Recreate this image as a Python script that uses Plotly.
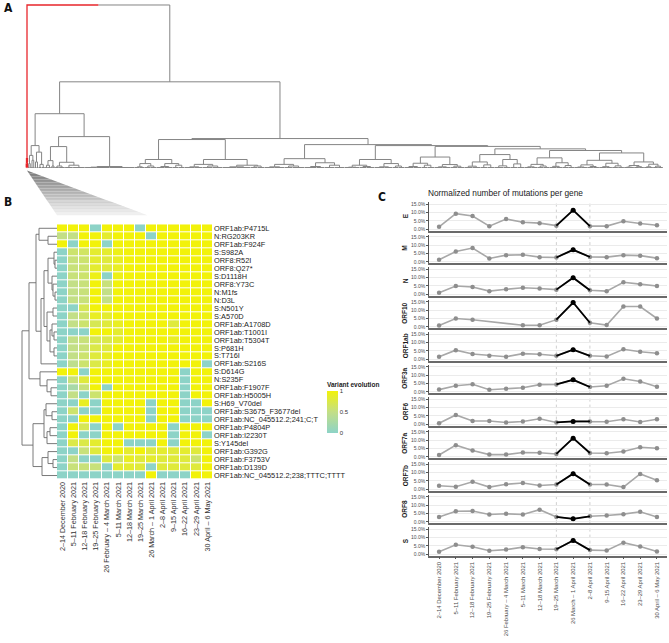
import plotly.graph_objects as go

W, H = 669, 643
FONT = "Liberation Sans, Arial, sans-serif"
LETTER_FONT = "Liberation Sans Narrow, DejaVu Sans Condensed, Arial Narrow, sans-serif"

# ---------------- data ----------------
weeks = ["2–14 December 2020", "5–11 February 2021", "12–18 February 2021",
         "19–25 February 2021", "26 February – 4 March 2021", "5–11 March 2021",
         "12–18 March 2021", "19–25 March 2021", "26 March – 1 April 2021",
         "2–8 April 2021", "9–15 April 2021", "16–22 April 2021",
         "23–29 April 2021", "30 April – 6 May 2021"]

mutations = ["ORF1ab:P4715L", "N:RG203KR", "ORF1ab:F924F", "S:S982A", "ORF8:R52I",
             "ORF8:Q27*", "S:D1118H", "ORF8:Y73C", "N:M1fs", "N:D3L", "S:N501Y",
             "S:A570D", "ORF1ab:A1708D", "ORF1ab:T1001I", "ORF1ab:T5304T", "S:P681H",
             "S:T716I", "ORF1ab:S216S", "S:D614G", "N:S235F", "ORF1ab:F1907F",
             "ORF1ab:H5005H", "S:H69_V70del", "ORF1ab:S3675_F3677del",
             "ORF1ab:NC_045512.2;241;C;T", "ORF1ab:P4804P", "ORF1ab:I2230T",
             "S:Y145del", "ORF1ab:G392G", "ORF1ab:F3753V", "ORF1ab:D139D",
             "ORF1ab:NC_045512.2;238;TTTC;TTTT"]

variant_evolution = [
    [1, 1, 1, 0, 1, 1, 1, 0, 1, 1, 1, 1, 1, 1],
    [0.5, 0.5, 1, 1, 0.85, 1, 1, 1, 0, 1, 1, 1, 1, 1],
    [1, 0, 1, 1, 0, 1, 1, 1, 1, 1, 1, 1, 1, 1],
    [0, 0.6, 0.65, 0.85, 0.85, 0.95, 1, 1, 1, 1, 1, 1, 1, 1],
    [0, 0.55, 0.6, 0.85, 0.8, 0.9, 1, 1, 1, 1, 1, 1, 1, 1],
    [0, 0.55, 0.6, 0.85, 0.8, 0.9, 1, 1, 1, 1, 1, 1, 1, 1],
    [0, 0.55, 0.6, 0.95, 0, 0.95, 1, 1, 1, 1, 1, 1, 1, 1],
    [0, 0.5, 0.55, 1, 0.55, 1, 1, 1, 1, 1, 1, 1, 1, 1],
    [0, 0.5, 0.55, 1, 0.5, 1, 1, 1, 1, 1, 1, 1, 1, 1],
    [0, 0.5, 0.55, 1, 0.5, 1, 1, 1, 1, 1, 1, 1, 1, 1],
    [0, 0, 0.7, 1, 1, 1, 1, 1, 1, 1, 1, 1, 1, 1],
    [0, 0.5, 0.6, 0.9, 0.85, 1, 1, 1, 1, 1, 1, 1, 1, 1],
    [0, 0.5, 0.6, 0.7, 0.8, 0.9, 1, 1, 1, 1, 0.8, 1, 1, 1],
    [0, 0, 0, 1, 1, 0.85, 1, 1, 1, 1, 1, 1, 1, 1],
    [0, 0.5, 0.55, 0.7, 0.75, 0.85, 1, 1, 1, 1, 0.9, 1, 1, 1],
    [0, 0.5, 0.55, 0.75, 0.8, 1, 1, 1, 1, 1, 1, 1, 1, 1],
    [0, 0.5, 0.6, 0.8, 0.9, 1, 1, 1, 1, 1, 1, 1, 1, 1],
    [0, 0.45, 0.6, 0.75, 0.9, 1, 1, 1, 1, 1, 1, 1, 1, 0],
    [1, 1, 0, 1, 1, 1, 1, 1, 1, 1, 1, 0, 1, 1],
    [0, 0.55, 0.8, 1, 1, 1, 1, 1, 1, 1, 1, 0, 1, 1],
    [0, 0.25, 0.55, 1, 0, 1, 1, 1, 1, 1, 1, 0, 1, 1],
    [0, 0.5, 0, 0.6, 1, 1, 1, 1, 1, 1, 1, 0, 1, 1],
    [0, 0, 0.9, 0, 1, 1, 1, 1, 0, 1, 1, 0, 0, 1],
    [0, 0.6, 0, 0, 1, 1, 1, 1, 0, 1, 1, 0, 0, 0],
    [0, 0, 1, 1, 1, 1, 1, 1, 0, 1, 1, 0, 0, 0],
    [0, 1, 0.7, 0, 1, 0, 1, 1, 1, 1, 0, 1, 1, 1],
    [0, 1, 0, 0, 1, 1, 1, 1, 1, 1, 0, 1, 1, 0],
    [0, 0.75, 0.75, 0.85, 1, 1, 0, 0, 0, 1, 0, 1, 1, 1],
    [0, 0, 0.55, 0.8, 1, 1, 0.85, 1, 0.8, 0.85, 0.8, 0.85, 0.8, 1],
    [0, 0.5, 0, 0, 0.8, 0.6, 0.9, 0.8, 0.85, 0.8, 0.8, 0.8, 0.6, 1],
    [0, 0.55, 0.55, 0.55, 0, 0.85, 0.85, 0.8, 0, 0.8, 0.8, 0.8, 0.8, 1],
    [0, 0, 0, 0, 0, 0, 0, 0, 1, 0, 0, 0, 1, 1],
]

genes = ["E", "M", "N", "ORF10", "ORF1ab", "ORF3a", "ORF6", "ORF7a", "ORF7b", "ORF8", "S"]
E_pct = [1.5, 9.4, 8.0, 1.9, 6.2, 4.2, 3.7, 2.2, 11.5, 1.9, 1.9, 4.8, 3.5, 2.4]
M_pct = [1.2, 6.2, 8.3, 2.0, 4.0, 4.2, 2.8, 2.6, 7.2, 2.9, 2.8, 4.0, 3.7, 2.2]
N_pct = [0.9, 5.0, 4.4, 1.9, 3.0, 3.9, 3.5, 2.8, 10.0, 2.4, 1.9, 7.2, 6.1, 5.0]
ORF10_pct = [0.8, 5.0, 4.2, None, None, 0.9, 0.9, 4.3, 14.6, 2.4, 1.0, 12.2, 12.2, 5.0]
ORF1ab_pct = [1.5, 5.5, 3.2, 2.2, 1.5, 3.4, 3.0, 2.1, 5.8, 2.1, 1.7, 6.0, 4.5, 3.6]
ORF3a_pct = [1.3, 3.6, 4.5, 1.2, 1.8, 2.4, 4.3, 4.4, 7.2, 2.9, 3.6, 7.8, 6.2, 3.0]
ORF6_pct = [0.6, 5.6, 2.0, 2.0, 1.1, 1.7, 3.3, 1.1, 1.7, 1.7, 1.5, 3.0, 1.4, 3.0]
ORF7a_pct = [1.1, 7.0, 3.8, 1.3, 1.3, 2.6, 2.4, 1.7, 11.2, 2.3, 2.1, 3.2, 5.7, 5.1]
ORF7b_pct = [2.1, 1.5, 4.5, 1.3, 3.0, 3.8, 2.3, 2.9, 9.4, 2.9, 2.9, 1.3, 9.2, 5.4]
ORF8_pct = [2.9, 6.3, 6.5, 4.4, 4.8, 4.4, 7.3, 2.9, 1.8, 3.3, 3.8, 4.6, 6.0, 2.9]
S_pct = [1.5, 5.7, 4.5, 2.1, 2.8, 4.3, 3.2, 3.0, 8.3, 2.5, 2.3, 7.0, 4.7, 1.7]
gene_pct = [E_pct, M_pct, N_pct, ORF10_pct, ORF1ab_pct, ORF3a_pct, ORF6_pct,
            ORF7a_pct, ORF7b_pct, ORF8_pct, S_pct]
pct_ticks = [0, 5, 10, 15]

highlight_weeks = ["19–25 March 2021", "2–8 April 2021"]
peak_week = "26 March – 1 April 2021"

# sample dendrogram: [height, left, right]; leaf = collapsed cluster width
red_cluster = [6, [3, 0.5, 0.5], [4, 0.5, 0.5]]
cl1 = [6.0, [2.5, [1, 10, 10], [1.5, 8, 12]], [3.5, [1.2, 12, 8], [2, 10, 10]]]
cl2 = [5.5, [2, [0.8, 8, 7], [1.2, 7, 8]], [3, [1, 10, 8], [1.5, 6, 6]]]
cl3 = [7.0, [3.2, [1.2, 9, 8], [2, 6, 7]], [2.4, [1, 8, 8], [1.4, 7, 7]]]
cl4 = [8.5, [4, [1.4, 8, 8], [2.2, 7, 7]], [5.5, [1.6, 9, 7], [2.8, 7, 7]]]
cl5 = [6.5, [2.5, [1, 7, 6], [1.5, 6, 6]], [3.5, [1.3, 7, 6], [1.8, 6, 6]]]
cl6 = [5.0, [2.2, [0.9, 7, 6], [1.2, 6, 6]], [3.2, [1.1, 7, 6], [1.6, 6, 6]]]
cl7 = [4.0, [1.8, [0.8, 5, 5], [1.1, 5, 5]], [2.6, [1, 5, 4], [1.4, 5, 5]]]
right_chain = [14.6, cl1, [14.0, cl2, [13.5, cl3, [12.0, cl4,
               [11.0, cl5, [9.5, cl6, cl7]]]]]]
sample_tree = [100, red_cluster,
    [53,
     [33.5,
      [14, [8, [3, 1.5, 1.5], [5, 2, 1.5]], [10, [4, 2, 2], [2.5, 3, 3.5]]],
      [19.5,
       [13.4, [4.8, [2, 3, 3], [1.5, 2, 2]], [3.8, [1.5, 4, 6], [2, 8, 12]]],
       [1.2, [0.8, 12, 13], [0.6, 12, 13]]]],
     [18.3,
      [17.7,
       [5.5, [3, [1, 5, 5], [1.5, 6, 6]], [3, [1.2, 8, 8], [2, 6, 6]]],
       [5.5, [2.5, [1, 10, 8], [1.5, 10, 10]], [2, [1, 14, 14], [1.5, 7, 7]]]],
      right_chain]]]

# mutation (row) dendrogram: [height, left, right]; leaf = row number
top3 = [18, 1, [9, 2, 3]]
alpha = [16, [13, [9, [3, 4, [2, 5, 6]], [5, 7, [4, 8, [2, 9, 10]]]],
              [10, [4, 11, 12], [7, [5, 13, [3, 14, 15]], [3, 16, 17]]]], 18]
beta = [17, 19, [10, 20, [6, 21, 22]]]
gamma = [13, [11, 23, [5, 24, 25]], [10, [7, 26, 27], 28]]
delta = [15, [9, 29, [4, 30, 31]], 32]
mutation_tree = [35, [28, [21, top3, alpha], beta], [24, gamma, delta]]

# ---------------- helpers ----------------
def fx(p):
    return p / W


def fy(p):
    return 1 - p / H


def add_seg(segs, xs, ys):
    segs[0].extend(xs + [None])
    segs[1].extend(ys + [None])


def walk_sample(node, cur, segs):
    if not isinstance(node, list):
        x0 = cur[0]
        cur[0] += node
        x = x0 + node / 2
        add_seg(segs, [x0 + 0.15, x0 + node - 0.15], [0.6, 0.6])
        return x, 0.6
    h, left, right = node
    xl, hl = walk_sample(left, cur, segs)
    xr, hr = walk_sample(right, cur, segs)
    add_seg(segs, [xl, xl, xr, xr], [hl, h, h, hr])
    return (xl + xr) / 2, h


def walk_rows(node, segs):
    if not isinstance(node, list):
        return node - 1, 0.0
    h, a, b = node
    ya, ha = walk_rows(a, segs)
    yb, hb = walk_rows(b, segs)
    add_seg(segs, [ha, h, h, hb], [ya, ya, yb, yb])
    return (ya + yb) / 2, h


fig = go.Figure()

# ---------------- panel A: sample dendrogram ----------------
root_h, red_sub, gray_sub = sample_tree
cur = [0.0]
red_segs = ([], [])
gray_segs = ([], [])
x_red, h_red = walk_sample(red_sub, cur, red_segs)
x_gray, h_gray = walk_sample(gray_sub, cur, gray_segs)
total_w = cur[0]
x_mid = (x_red + x_gray) / 2
add_seg(red_segs, [x_red, x_red, x_mid], [h_red, root_h, root_h])
add_seg(gray_segs, [x_mid, x_gray, x_gray], [root_h, root_h, h_gray])

# pixel frame of panel A (h = 0 at A_B, h = root at A_T); a little headroom so
# the top line is not clipped
A_L, A_R, A_T, A_B = 26, 663, 4, 168
px_per_h = (A_B - A_T) / root_h
head = 2.0
fig.add_trace(go.Scatter(x=gray_segs[0], y=gray_segs[1], mode="lines",
                         line=dict(color="#858585", width=1), xaxis="x", yaxis="y",
                         hoverinfo="skip", showlegend=False))
fig.add_trace(go.Scatter(x=red_segs[0], y=red_segs[1], mode="lines",
                         line=dict(color="#e8262b", width=1.3), xaxis="x", yaxis="y",
                         hoverinfo="skip", showlegend=False))

# ---------------- panel B: heatmap + row dendrogram ----------------
HM_L, HM_R, HM_T, HM_B = 57, 213, 224, 480
n_rows = len(mutations)
n_cols = len(weeks)

row_segs = ([], [])
walk_rows(mutation_tree, row_segs)
fig.add_trace(go.Scatter(x=row_segs[0], y=row_segs[1], mode="lines",
                         line=dict(color="#6b6b6b", width=0.9), xaxis="x2", yaxis="y2",
                         hoverinfo="skip", showlegend=False))

fig.add_trace(go.Heatmap(
    z=variant_evolution, x=list(range(n_cols)), y=list(range(n_rows)),
    zmin=0, zmax=1, xgap=1, ygap=1,
    colorscale=[[0, "#8DD3C7"], [0.5, "#C3DF86"], [1, "#F2F20A"]],
    xaxis="x3", yaxis="y3", hoverinfo="skip",
    colorbar=dict(x=fx(327), xanchor="left", y=fy(379), yanchor="top",
                  len=54, lenmode="pixels", thickness=11, thicknessmode="pixels",
                  outlinewidth=0, xpad=0, ypad=0, ticks="",
                  tickvals=[0, 0.5, 1], ticktext=["0", "0.5", "1"],
                  tickfont=dict(family=FONT, size=6, color="#333333"),
                  title=dict(text="<b>Variant evolution</b>", side="top",
                             font=dict(family=FONT, size=6.5, color="#222222")))))

# zoom triangle (gradient) from the red cluster to the heatmap
apex_x = A_L + x_red / total_w * (A_R - A_L)
apex_y = A_B + 2
base_y = 215
base_l = HM_L
base_r = HM_L + 0.58 * (HM_R - HM_L)
n_bands = 30
c0 = (120, 120, 120)
c1 = (242, 242, 242)
for i in range(n_bands):
    t0, t1 = i / n_bands, (i + 1) / n_bands
    pts = []
    for t, side in ((t0, "l"), (t0, "r"), (t1, "r"), (t1, "l")):
        bx = base_l if side == "l" else base_r
        px = apex_x + (bx - apex_x) * t
        py = apex_y + (base_y - apex_y) * t
        pts.append((fx(px), fy(py)))
    tm = (t0 + t1) / 2
    col = "rgb(%d,%d,%d)" % tuple(int(c0[k] + (c1[k] - c0[k]) * tm) for k in range(3))
    path = "M %f %f L %f %f L %f %f L %f %f Z" % (pts[0] + pts[1] + pts[2] + pts[3])
    fig.add_shape(type="path", path=path, xref="paper", yref="paper",
                  fillcolor=col, line=dict(width=0), layer="below")

# ---------------- panel C: normalized mutations per gene ----------------
C_L, C_R = 429, 667
base0, pitch = 229, 32.6
i0 = weeks.index(highlight_weeks[0])
i1 = weeks.index(highlight_weeks[1])
ip = weeks.index(peak_week)
xs = list(range(n_cols))

layout_axes = {}
for k, (gene, vals) in enumerate(zip(genes, gene_pct)):
    n = 4 + k
    xa, ya = "x%d" % n, "y%d" % n
    b = base0 + k * pitch
    for iv in (i0, i1):
        fig.add_shape(type="line", x0=iv, x1=iv, y0=0, y1=1, xref=xa,
                      yref=ya + " domain", layer="below",
                      line=dict(color="#c4c4c4", width=0.8, dash="dot"))
    fig.add_trace(go.Scatter(x=xs, y=vals, mode="lines+markers", connectgaps=True,
                             line=dict(color="#a8a8a8", width=1.6),
                             marker=dict(color="#8e8e8e", size=4.5),
                             xaxis=xa, yaxis=ya, hoverinfo="skip", showlegend=False,
                             cliponaxis=False))
    seg_x = xs[i0:i1 + 1]
    seg_y = vals[i0:i1 + 1]
    fig.add_trace(go.Scatter(x=seg_x, y=seg_y, mode="lines",
                             line=dict(color="#000000", width=1.8),
                             xaxis=xa, yaxis=ya, hoverinfo="skip", showlegend=False,
                             cliponaxis=False))
    fig.add_trace(go.Scatter(x=[xs[ip]], y=[vals[ip]], mode="markers",
                             marker=dict(color="#000000", size=5),
                             xaxis=xa, yaxis=ya, hoverinfo="skip", showlegend=False,
                             cliponaxis=False))
    last = (k == len(genes) - 1)
    xdict = dict(
        domain=[fx(C_L), fx(C_R)], range=[-0.6, n_cols - 0.4], anchor=ya,
        showgrid=False, zeroline=False, showline=True, linecolor="#6a6a6a",
        linewidth=1.8, tickvals=xs, ticktext=weeks, showticklabels=last,
        ticks="outside" if last else "", ticklen=2, tickcolor="#555555",
        tickangle=-90, tickfont=dict(family=FONT, size=5.9, color="#4d4d4d"))
    if n != 4:
        xdict["matches"] = "x4"
    layout_axes["xaxis%d" % n] = xdict
    layout_axes["yaxis%d" % n] = dict(
        domain=[fy(b + 1.33), fy(b - 27)], range=[-0.8, 16.2], anchor=xa,
        tickvals=pct_ticks, ticktext=["%.1f%%" % v for v in pct_ticks],
        tickfont=dict(family=FONT, size=5, color="#4d4d4d"),
        showline=True, linecolor="#555555", linewidth=0.7, ticks="outside",
        ticklen=2, tickcolor="#555555", showgrid=True, gridcolor="#ebebeb",
        gridwidth=0.6, zeroline=False)

annotations = []


def note(text, px, py, size, family=FONT, angle=0, color="#1a1a1a"):
    annotations.append(dict(text=text, x=fx(px), y=fy(py), xref="paper", yref="paper",
                            xanchor="center", yanchor="middle", showarrow=False,
                            textangle=angle, font=dict(family=family, size=size,
                                                       color=color)))


for k, gene in enumerate(genes):
    b = base0 + k * pitch
    note("<b>%s</b>" % gene, 405, b - 13, 6.5, angle=-90)
note("Normalized number of mutations per gene", 505, 193, 8.3)
for letter, px, py in (("A", 8, 7.5), ("B", 8, 202), ("C", 382, 197)):
    note("<b>%s</b>" % letter, px, py, 12, family=LETTER_FONT, color="#111111")

hidden = dict(showgrid=False, zeroline=False, showticklabels=False, showline=False,
              ticks="")
u_per_px = total_w / (A_R - A_L)
fig.update_layout(
    width=W, height=H, margin=dict(l=0, r=0, t=0, b=0),
    paper_bgcolor="white", plot_bgcolor="white", showlegend=False,
    font=dict(family=FONT),
    xaxis=dict(domain=[fx(A_L - 2), fx(A_R + 2)],
               range=[-2 * u_per_px, total_w + 2 * u_per_px], **hidden),
    yaxis=dict(domain=[fy(A_B), fy(A_T - head * px_per_h)], range=[0, root_h + head],
               anchor="x", **hidden),
    xaxis2=dict(domain=[fx(4), fx(HM_L + 1)], range=[53, -1], anchor="y2", **hidden),
    yaxis2=dict(domain=[fy(HM_B), fy(HM_T)], range=[n_rows - 0.5, -0.5], anchor="x2",
                **hidden),
    xaxis3=dict(domain=[fx(HM_L), fx(HM_R)], range=[-0.5, n_cols - 0.5], anchor="y3",
                tickvals=xs, ticktext=weeks, tickangle=-90, ticks="", showgrid=False,
                zeroline=False, showline=False,
                tickfont=dict(family=FONT, size=7.2, color="#333333")),
    yaxis3=dict(domain=[fy(HM_B), fy(HM_T)], range=[n_rows - 0.5, -0.5], anchor="x3",
                side="right", tickvals=list(range(n_rows)), ticktext=mutations,
                ticks="", showgrid=False, zeroline=False, showline=False,
                tickfont=dict(family=FONT, size=7.4, color="#222222")),
    annotations=annotations,
    **layout_axes,
)

fig.write_html("out.html", config={"displayModeBar": False},
               post_script="document.body.style.margin='0px';"
                           "document.body.style.overflow='hidden';")
